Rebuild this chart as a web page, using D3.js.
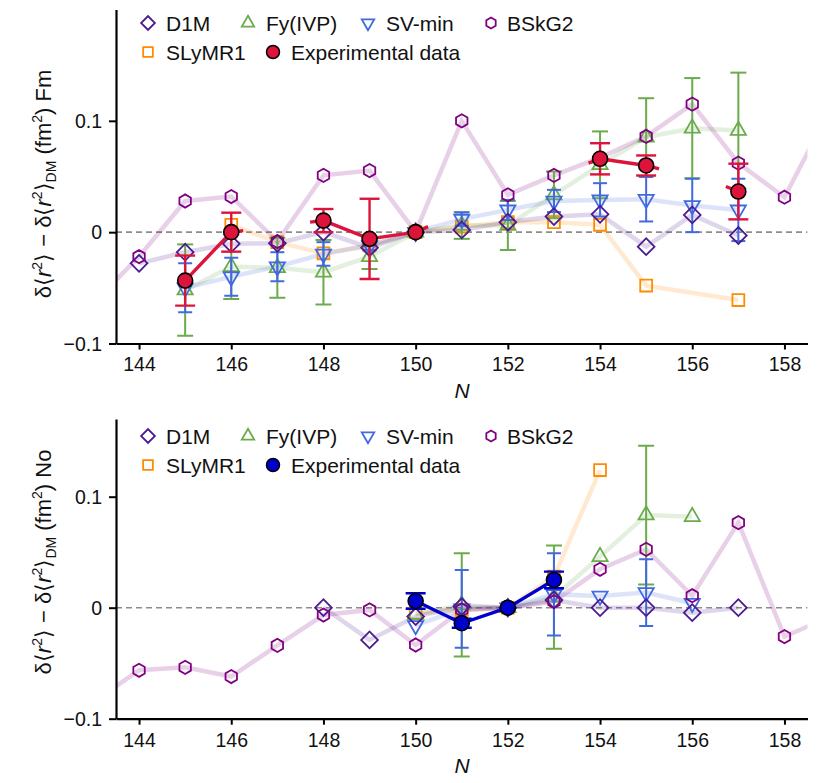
<!DOCTYPE html>
<html>
<head>
<meta charset="utf-8">
<script src="https://cdn.jsdelivr.net/npm/d3@7"></script>
<style>
body { margin: 0; background: #fff; }
svg text { font-family: "Liberation Sans", Arial, Helvetica, sans-serif; fill: #111; }
</style>
</head>
<body>
<svg width="820" height="783"></svg>
<script>
// ================= DATA =================
const nTicks = [144, 146, 148, 150, 152, 154, 156, 158];

// Fm panel, [N, value, error]
const fmD1M = [[144,-0.028],[145,-0.018],[146,-0.0105],[147,-0.01],[148,0],[149,-0.014],[150,0],[151,0.002],[152,0.009],[153,0.014],[154,0.016],[155,-0.013],[156,0.0155],[157,-0.003]];
const fmFy = [[145,-0.052,0.041],[146,-0.031,0.029],[147,-0.032,0.027],[148,-0.036,0.029],[149,-0.022,0.011],[150,0,0],[151,0.006,0.012],[152,0.006,0.022],[153,0.0335,0.021],[154,0.0605,0.03],[155,0.0853,0.035],[156,0.0934,0.045],[157,0.0913,0.052]];
const fmSV = [[145,-0.05,0.022],[146,-0.04,0.017],[147,-0.031,0.013],[148,-0.0196,0.0106],[149,-0.012,0.004],[150,0,0],[151,0.0117,0.006],[152,0.02,0.009],[153,0.028,0.01],[154,0.029,0.015],[155,0.0296,0.02],[156,0.024,0.024],[157,0.02,0.028]];
const fmSLy = [[146,0.0066],[147,-0.009],[148,-0.019],[149,-0.012],[150,0],[151,0.005],[152,0.009],[153,0.009],[154,0.0066],[155,-0.048],[157,-0.061]];
const fmBSk = [[143,-0.064],[144,-0.022],[145,0.028],[146,0.032],[147,-0.0084],[148,0.051],[149,0.0553],[150,0],[151,0.1],[152,0.0335],[153,0.051],[154,0.067],[155,0.086],[156,0.115],[157,0.062],[158,0.0314],[159,0.111]];
const fmExp = [[145,-0.0435,0.0225],[146,0,0.0175],[148,0.0104,0.0104],[149,-0.006,0.036],[150,0,0],[154,0.0659,0.014],[155,0.0599,0.009],[157,0.0365,0.025]];
const fmExpLine = [
  [[145,-0.0435],[146,0],[146.26,0.0014]],
  [[147.71,0.009],[148,0.0104],[149,-0.006],[150,0],[150.27,0.005]],
  [[153.75,0.062],[154,0.0659],[155,0.0599],[155.28,0.0569]],
  [[156.73,0.041],[157,0.0365]]
];

// No panel, [N, value, error]
const noD1M = [[148,0],[149,-0.029],[150,-0.008],[151,0.001],[152,0],[153,0.007],[154,0],[155,0],[156,-0.0045],[157,0]];
const noFy = [[150,-0.006,0],[151,0.0025,0.0465],[152,0,0],[153,0.0095,0.0465],[154,0.046,0],[155,0.0835,0.0625],[156,0.082,0]];
const noSV = [[150,-0.016,0],[151,-0.001,0.035],[152,0,0],[153,0.012,0.037],[154,0.0105,0],[155,0.0136,0.03],[156,0.004,0]];
const noSLy = [[150,-0.005],[151,-0.002],[152,0],[153,0.028],[154,0.124]];
const noBSk = [[143,-0.085],[144,-0.0564],[145,-0.0537],[146,-0.062],[147,-0.034],[148,-0.0066],[149,-0.002],[150,-0.0336],[151,-0.002],[152,0],[153,0.0054],[154,0.0346],[155,0.0526],[156,0.0108],[157,0.0766],[158,-0.026],[159,-0.008]];
const noExp = [[150,0.006,0.007],[151,-0.014,0.004],[152,0,0],[153,0.025,0.0075]];
const noExpLine = [[[150,0.006],[151,-0.014],[152,0],[153,0.025]]];

// ================= STYLE =================
const cD1M = "#4b1c8f", cFy = "#6aab4b", cSV = "#4169e1", cSLy = "#ff8c00", cBSk = "#800080";

const svg = d3.select("svg");

function hexPath(r) {
  const pts = d3.range(6).map(k => {
    const a = (-90 + 60 * k) * Math.PI / 180;
    return [r * Math.cos(a), r * Math.sin(a)];
  });
  return "M" + pts.join("L") + "Z";
}

function shapePath(shape, s) {
  if (shape === "diamond" || shape === "square") return d3.symbol(d3.symbolSquare, 140 * s * s)();
  if (shape === "up" || shape === "down") return d3.symbol(d3.symbolTriangle, 100 * s * s)();
  if (shape === "hex") return hexPath(6.6 * s);
  return d3.symbol(d3.symbolCircle, 160 * s * s)();
}
function shapeRot(shape) {
  return shape === "diamond" ? 45 : (shape === "down" ? 180 : 0);
}

function drawPanel(p) {
  const x = d3.scaleLinear().domain([143.5, 158.5]).range([116, 807.5]);
  const y = d3.scaleLinear().domain(p.yDomain).range([p.bottom, p.top]);
  const g = svg.append("g");

  g.append("clipPath").attr("id", p.id)
    .append("rect").attr("x", 116).attr("y", p.top - 10)
    .attr("width", 807.5 - 116).attr("height", p.bottom - p.top + 10);

  const plot = g.append("g").attr("clip-path", "url(#" + p.id + ")");

  // zero line
  plot.append("line")
    .attr("x1", x(143.5)).attr("x2", x(158.5))
    .attr("y1", y(0)).attr("y2", y(0))
    .attr("stroke", "#8c8c8c").attr("stroke-width", 1.6)
    .attr("stroke-dasharray", "6,4");

  const line = d3.line().x(d => x(d[0])).y(d => y(d[1]));

  // pale model lines
  p.models.forEach(m => {
    plot.append("path").datum(m.data)
      .attr("d", line)
      .attr("fill", "none")
      .attr("stroke", m.color).attr("stroke-opacity", 0.18)
      .attr("stroke-width", 4.5);
  });

  // model markers + error bars
  p.models.forEach(m => {
    const mg = plot.append("g");
    mg.selectAll("path.mk").data(m.data.filter(d => d[0] >= 143.5 && d[0] <= 158.5))
      .enter().append("path").attr("class", "mk")
      .attr("d", shapePath(m.shape, 1))
      .attr("transform", d => "translate(" + x(d[0]) + "," + y(d[1]) + ") rotate(" + shapeRot(m.shape) + ")")
      .attr("fill", "none").attr("stroke", m.color).attr("stroke-width", 1.8);
    const eb = m.data.filter(d => d[2]);
    const eg = mg.selectAll("g.eb").data(eb).enter().append("g")
      .attr("stroke", m.color).attr("stroke-width", 2);
    eg.append("line").attr("x1", d => x(d[0])).attr("x2", d => x(d[0]))
      .attr("y1", d => y(d[1] - d[2])).attr("y2", d => y(d[1] + d[2]));
    eg.append("line").attr("x1", d => x(d[0]) - m.cap).attr("x2", d => x(d[0]) + m.cap)
      .attr("y1", d => y(d[1] + d[2])).attr("y2", d => y(d[1] + d[2]));
    eg.append("line").attr("x1", d => x(d[0]) - m.cap).attr("x2", d => x(d[0]) + m.cap)
      .attr("y1", d => y(d[1] - d[2])).attr("y2", d => y(d[1] - d[2]));
  });

  // experimental data
  p.expLine.forEach(seg => {
    plot.append("path").datum(seg).attr("d", line)
      .attr("fill", "none").attr("stroke", p.expColor).attr("stroke-width", 3.4);
  });
  const ee = plot.selectAll("g.exb").data(p.exp.filter(d => d[2])).enter().append("g")
    .attr("stroke", p.expColor).attr("stroke-width", 2.4);
  ee.append("line").attr("x1", d => x(d[0])).attr("x2", d => x(d[0]))
    .attr("y1", d => y(d[1] - d[2])).attr("y2", d => y(d[1] + d[2]));
  [1, -1].forEach(sgn => {
    ee.append("line").attr("x1", d => x(d[0]) - 10).attr("x2", d => x(d[0]) + 10)
      .attr("y1", d => y(d[1] + sgn * d[2])).attr("y2", d => y(d[1] + sgn * d[2]));
  });
  plot.selectAll("circle.exp").data(p.exp).enter().append("circle")
    .attr("cx", d => x(d[0])).attr("cy", d => y(d[1])).attr("r", 7.5)
    .attr("fill", p.expColor).attr("stroke", "#000").attr("stroke-width", 1.6);

  // ================== AXES ==================
  const ax = g.append("g")
    .attr("transform", "translate(0," + p.bottom + ")")
    .call(d3.axisBottom(x).tickValues(nTicks).tickFormat(d3.format("d"))
      .tickSize(6).tickSizeOuter(0).tickPadding(7));
  const ay = g.append("g")
    .attr("transform", "translate(116,0)")
    .call(d3.axisLeft(y).tickValues([-0.1, 0, 0.1])
      .tickFormat(d => d === 0 ? "0" : d3.format(".1f")(d))
      .tickSize(7).tickSizeOuter(0).tickPadding(8));
  [ax, ay].forEach(a => {
    a.select(".domain").attr("stroke", "#000").attr("stroke-width", 2.2);
    a.selectAll(".tick line").attr("stroke", "#000").attr("stroke-width", 2);
    a.selectAll(".tick text").attr("font-size", 21).attr("fill", "#111")
      .attr("font-family", "'Liberation Sans', Arial, sans-serif");
  });
  ax.selectAll(".tick text").attr("transform", "scale(0.93,1)");
  ay.selectAll(".tick text").attr("transform", "scale(0.93,1)");

  g.append("text").attr("x", 462).attr("y", p.bottom + 54)
    .attr("text-anchor", "middle").attr("font-size", 21).attr("font-style", "italic")
    .text("N");

  const yl = g.append("text")
    .attr("transform", "translate(51," + p.labelY + ") rotate(-90)")
    .attr("text-anchor", "middle").attr("font-size", 22);
  yl.append("tspan").text("δ⟨");
  yl.append("tspan").attr("font-style", "italic").text("r");
  yl.append("tspan").attr("font-size", 14).attr("dy", -9).text("2");
  yl.append("tspan").attr("dy", 9).text("⟩ − δ⟨");
  yl.append("tspan").attr("font-style", "italic").text("r");
  yl.append("tspan").attr("font-size", 14).attr("dy", -9).text("2");
  yl.append("tspan").attr("dy", 9).text("⟩");
  yl.append("tspan").attr("font-size", 14).attr("dy", 5).text("DM");
  yl.append("tspan").attr("dy", -5).text(" (fm");
  yl.append("tspan").attr("font-size", 14).attr("dy", -9).text("2");
  yl.append("tspan").attr("dy", 9).text(") " + p.element);

  // ================== LEGEND ==================
  const items = [
    {shape: "diamond", color: cD1M, label: "D1M", x: 148, row: 0},
    {shape: "up", color: cFy, label: "Fy(IVP)", x: 248, row: 0},
    {shape: "down", color: cSV, label: "SV-min", x: 368, row: 0},
    {shape: "hex", color: cBSk, label: "BSkG2", x: 491, row: 0},
    {shape: "square", color: cSLy, label: "SLyMR1", x: 148, row: 1},
    {shape: "exp", color: p.expColor, label: "Experimental data", x: 273, row: 1}
  ];
  const lg = g.append("g");
  items.forEach(it => {
    const cy = p.legendY + it.row * 29;
    if (it.shape === "exp") {
      lg.append("circle").attr("cx", it.x).attr("cy", cy).attr("r", 6.5)
        .attr("fill", it.color).attr("stroke", "#000").attr("stroke-width", 1.5);
    } else {
      lg.append("path").attr("d", shapePath(it.shape, 0.82))
        .attr("transform", "translate(" + it.x + "," + cy + ") rotate(" + shapeRot(it.shape) + ")")
        .attr("fill", "none").attr("stroke", it.color).attr("stroke-width", 1.8);
    }
    lg.append("text").attr("x", it.x + (it.shape === "hex" ? 16 : 18))
      .attr("y", cy + 7.5).attr("font-size", 21).text(it.label);
  });
}

drawPanel({
  id: "clipFm", yDomain: [-0.1, 0.2], top: 9.5, bottom: 343.5, labelY: 184, element: "Fm",
  legendY: 23, expColor: "#dc143c", exp: fmExp, expLine: fmExpLine,
  models: [
    {data: fmSLy, shape: "square", color: cSLy, cap: 7},
    {data: fmFy, shape: "up", color: cFy, cap: 8},
    {data: fmSV, shape: "down", color: cSV, cap: 7},
    {data: fmD1M, shape: "diamond", color: cD1M, cap: 7},
    {data: fmBSk, shape: "hex", color: cBSk, cap: 7}
  ]
});

drawPanel({
  id: "clipNo", yDomain: [-0.1, 0.17], top: 419, bottom: 718.7, labelY: 562, element: "No",
  legendY: 436, expColor: "#0000cd", exp: noExp, expLine: noExpLine,
  models: [
    {data: noSLy, shape: "square", color: cSLy, cap: 7},
    {data: noFy, shape: "up", color: cFy, cap: 8},
    {data: noSV, shape: "down", color: cSV, cap: 7},
    {data: noD1M, shape: "diamond", color: cD1M, cap: 7},
    {data: noBSk, shape: "hex", color: cBSk, cap: 7}
  ]
});
</script>
</body>
</html>
